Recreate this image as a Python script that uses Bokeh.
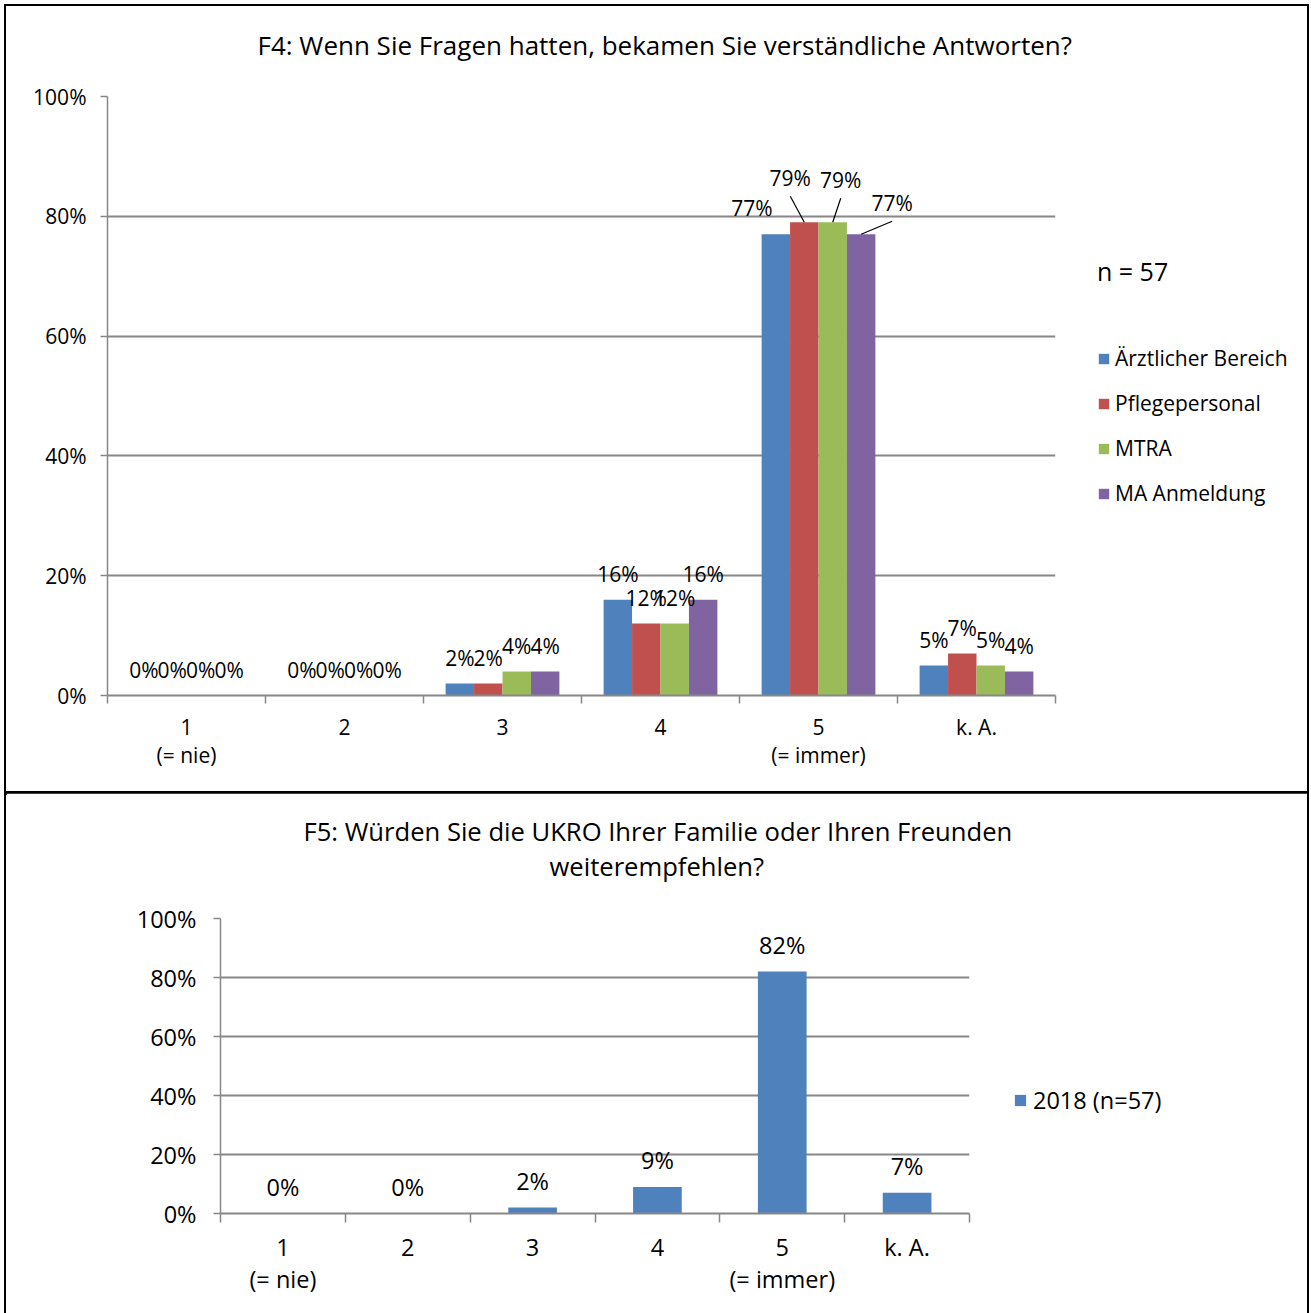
from bokeh.plotting import figure
from bokeh.models import (Range1d, FixedTicker, ColumnDataSource, LabelSet,
                          Legend, LegendItem, Title)
from bokeh.transform import dodge
from bokeh.core.properties import value
from bokeh.embed import file_html
from bokeh.resources import INLINE

# ---------------- data ----------------
f4_title = "F4: Wenn Sie Fragen hatten, bekamen Sie verständliche Antworten?"
f4_categories = ["1\n(= nie)", "2", "3", "4", "5\n(= immer)", "k. A."]
f4_series = ["Ärztlicher Bereich", "Pflegepersonal", "MTRA", "MA Anmeldung"]
f4_aerztlich = [0, 0, 2, 16, 77, 5]
f4_pflege = [0, 0, 2, 12, 79, 7]
f4_mtra = [0, 0, 4, 12, 79, 5]
f4_anmeldung = [0, 0, 4, 16, 77, 4]
f4_n_text = "n = 57"

f5_title_lines = ["F5: Würden Sie die UKRO Ihrer Familie oder Ihren Freunden", "weiterempfehlen?"]
f5_categories = ["1\n(= nie)", "2", "3", "4", "5\n(= immer)", "k. A."]
f5_series = "2018 (n=57)"
f5_values = [0, 0, 2, 9, 82, 7]

y_ticks = [0, 20, 40, 60, 80, 100]

# ---------------- style ----------------
FONT = "Open Sans"
GRID = "#878787"
COLORS = ["#4F81BD", "#C0504D", "#9BBB59", "#8064A2"]
W = 1301

# label displacement (px) for the crowded group "5" of F4: (category index, series index) -> (dx, dy)
f4_label_shift = {(4, 0): (-24, 0), (4, 1): (-14, 18), (4, 2): (8, 16), (4, 3): (31, 5)}
f4_leaders = [(4, 1), (4, 2), (4, 3)]


def style_axes(p, n_cats, font_px, line_h, tick_len, x_standoff, y_standoff):
    centers = list(range(1, n_cats + 1))
    bounds = [c - 0.5 for c in centers] + [n_cats + 0.5]
    xa = p.xaxis[0]
    xa.ticker = FixedTicker(ticks=centers, minor_ticks=bounds)
    xa.major_tick_out = 0
    xa.major_tick_in = 0
    xa.minor_tick_out = tick_len
    xa.minor_tick_in = 0
    xa.minor_tick_line_color = GRID
    xa.minor_tick_line_width = 1.5
    xa.axis_line_color = GRID
    xa.axis_line_width = 2
    xa.major_label_standoff = x_standoff
    xa.major_label_text_font = FONT
    xa.major_label_text_font_size = font_px
    xa.major_label_text_color = "black"
    xa.major_label_text_line_height = line_h

    ya = p.yaxis[0]
    ya.ticker = FixedTicker(ticks=y_ticks, minor_ticks=[])
    ya.major_label_overrides = {t: f"{t}%" for t in y_ticks}
    ya.major_tick_out = 7
    ya.major_tick_in = 0
    ya.minor_tick_out = 0
    ya.minor_tick_in = 0
    ya.major_tick_line_color = GRID
    ya.major_tick_line_width = 1.5
    ya.axis_line_color = GRID
    ya.axis_line_width = 1.5
    ya.major_label_standoff = y_standoff
    ya.major_label_text_font = FONT
    ya.major_label_text_font_size = font_px
    ya.major_label_text_color = "black"

    p.xgrid.grid_line_color = None
    p.ygrid.ticker = FixedTicker(ticks=y_ticks)
    p.ygrid.grid_line_color = GRID
    p.ygrid.grid_line_width = 1.8
    p.outline_line_color = None
    p.background_fill_color = "white"
    p.border_fill_color = "white"


def title(text, size, standoff, offset=0):
    return Title(text=text, align="left", offset=offset, standoff=standoff,
                 text_font=FONT, text_font_size=size, text_font_style="normal",
                 text_color="black")


# ---------------- F4 ----------------
p1 = figure(width=W, height=787, x_range=Range1d(0.5, 6.5), y_range=Range1d(0, 100),
            output_backend="svg", toolbar_location=None, margin=(6, 0, 0, 6),
            min_border_left=101, min_border_right=252, min_border_top=90, min_border_bottom=98)
p1.title = None
p1.add_layout(title(" ", "26px", -4), "above")            # spacing between title and frame
p1.add_layout(title(f4_title, "26px", 0, offset=150), "above")

style_axes(p1, len(f4_categories), "21px", 1.0, 8, 9, 14)
p1.xaxis[0].major_label_overrides = {i + 1: c for i, c in enumerate(f4_categories)}

f4_values = [f4_aerztlich, f4_pflege, f4_mtra, f4_anmeldung]
bar_w = 0.18
offsets = [-1.5 * bar_w, -0.5 * bar_w, 0.5 * bar_w, 1.5 * bar_w]
PX_X = 948.0  # frame width px for 6 category units
PX_Y = 599.0  # frame height px for 100 units
LABEL_UP = 26

items = []
lead_x0, lead_y0, lead_x1, lead_y1 = [], [], [], []
for j, (name, vals) in enumerate(zip(f4_series, f4_values)):
    xs = list(range(1, len(f4_categories) + 1))
    dxs = [f4_label_shift.get((i, j), (0, 0))[0] for i in range(len(vals))]
    dys = [LABEL_UP + f4_label_shift.get((i, j), (0, 0))[1] for i in range(len(vals))]
    src = ColumnDataSource(dict(x=xs, v=vals, lbl=[f"{v}%" for v in vals], dx=dxs, dy=dys))
    r = p1.vbar(x=dodge("x", offsets[j]), top="v", width=bar_w, source=src,
                fill_color=COLORS[j], line_color=None)
    items.append(LegendItem(label=name, renderers=[r]))
    p1.add_layout(LabelSet(x=dodge("x", offsets[j]), y="v", text="lbl", source=src,
                           x_offset="dx", y_offset="dy", text_align="center",
                           text_baseline="middle", text_font=value(FONT),
                           text_font_size="21px", text_color="black"))
    for (ci, sj) in f4_leaders:
        if sj == j:
            bx = xs[ci] + offsets[j]
            by = vals[ci]
            dx, dy = f4_label_shift[(ci, sj)]
            lead_x0.append(bx)
            lead_y0.append(by)
            lead_x1.append(bx + dx * 6.0 / PX_X)
            lead_y1.append(by + (LABEL_UP + dy - 18) * 100.0 / PX_Y)

p1.segment(x0=lead_x0, y0=lead_y0, x1=lead_x1, y1=lead_y1, line_color="black", line_width=1.2)

leg1 = Legend(items=items, location=(42, 188), title=f4_n_text,
              title_text_font=FONT, title_text_font_size="25px", title_text_font_style="normal",
              title_text_color="black", title_standoff=56,
              glyph_width=13, glyph_height=13, label_standoff=5, spacing=17,
              label_text_font=FONT, label_text_font_size="21px", label_text_color="black",
              padding=0, margin=-260, border_line_color=None, background_fill_alpha=0)
p1.add_layout(leg1, "right")

# ---------------- F5 ----------------
p2 = figure(width=W, height=520, x_range=Range1d(0.5, 6.5), y_range=Range1d(0, 100),
            output_backend="svg", toolbar_location=None, margin=(0, 0, 0, 6),
            min_border_left=214, min_border_right=338, min_border_top=125, min_border_bottom=100)
p2.title = None
p2.add_layout(title(" ", "25.6px", -1.5), "above")        # spacing between title and frame
p2.add_layout(title(f5_title_lines[1], "25.6px", -3, offset=329), "above")
p2.add_layout(title(f5_title_lines[0], "25.6px", 0, offset=83), "above")

style_axes(p2, len(f5_categories), "23.5px", 1.0, 9, 8, 17)
p2.xaxis[0].major_label_overrides = {i + 1: c for i, c in enumerate(f5_categories)}

src2 = ColumnDataSource(dict(x=list(range(1, len(f5_categories) + 1)), v=f5_values,
                             lbl=[f"{v}%" for v in f5_values]))
r2 = p2.vbar(x="x", top="v", width=0.39, source=src2, fill_color=COLORS[0], line_color=None)
p2.add_layout(LabelSet(x="x", y="v", text="lbl", source=src2, y_offset=27,
                       text_align="center", text_baseline="middle", text_font=value(FONT),
                       text_font_size="23.5px", text_color="black"))
leg2 = Legend(items=[LegendItem(label=f5_series, renderers=[r2])], location=(44, 97),
              glyph_width=14, glyph_height=14, label_standoff=6,
              label_text_font=FONT, label_text_font_size="23.5px", label_text_color="black",
              padding=0, margin=-260, border_line_color=None, background_fill_alpha=0)
p2.add_layout(leg2, "right")

p1.styles = {"outline": "2px solid #000"}
p2.styles = {"outline": "2px solid #000"}

p = [p1, p2]
open("out.html", "w").write(file_html(p, INLINE))
